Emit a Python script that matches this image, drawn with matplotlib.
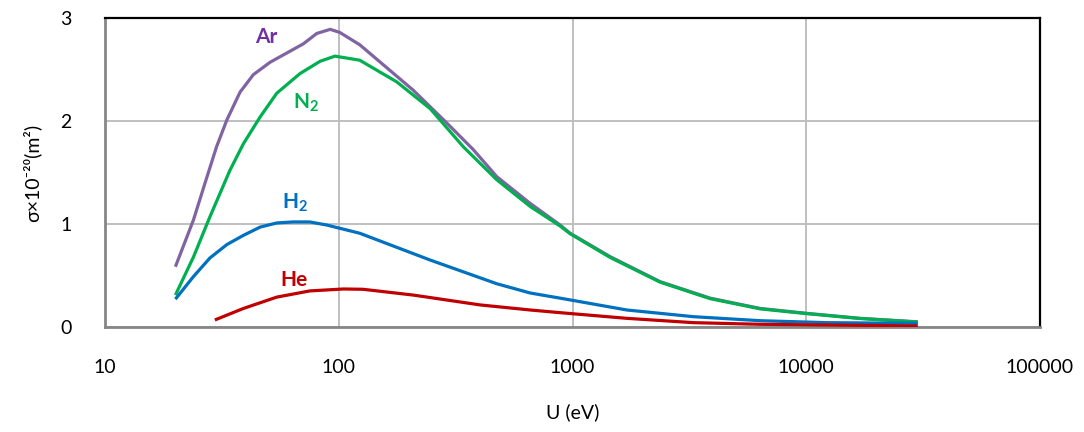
import matplotlib.pyplot as plt
from matplotlib.ticker import FixedLocator, FixedFormatter

plt.rcParams['font.family'] = ['Lato', 'DejaVu Sans']
plt.rcParams['mathtext.fontset'] = 'custom'
plt.rcParams['mathtext.rm'] = 'Lato'
plt.rcParams['mathtext.bf'] = 'Lato:bold'

# energy (eV) and cross sections (1e-20 m^2)
ar_u = [20, 23.9, 26.8, 30, 33.2, 37.8, 43.1, 50.8, 59.9, 70.6, 80.5, 91.9, 101, 123, 208, 290,
        377, 474, 659, 885, 977, 1449, 2372, 3880, 6350, 10000, 17000, 30000]
ar_s = [0.585, 1.04, 1.40, 1.75, 2.01, 2.28, 2.45, 2.57, 2.66, 2.75, 2.85, 2.89, 2.86, 2.74, 2.30, 1.98,
        1.72, 1.46, 1.20, 0.99, 0.91, 0.683, 0.44, 0.28, 0.18, 0.133, 0.084, 0.05]

n2_u = [20, 23.9, 28.1, 34.2, 39.1, 46.1, 54.3, 68.2, 83.2, 96.4, 123, 177, 246, 341, 474, 659,
        885, 977, 1449, 2372, 3880, 6350, 10000, 17000, 30000]
n2_s = [0.31, 0.68, 1.07, 1.52, 1.78, 2.04, 2.27, 2.46, 2.58, 2.63, 2.59, 2.38, 2.12, 1.75, 1.43, 1.17,
        0.98, 0.905, 0.675, 0.435, 0.275, 0.176, 0.13, 0.082, 0.048]

h2_u = [20, 23.9, 28.1, 33.2, 39.1, 46.1, 54.3, 63.8, 75.1, 88.8, 123, 246, 474, 659, 885,
        1707, 3290, 6350, 12250, 30000]
h2_s = [0.27, 0.49, 0.67, 0.80, 0.89, 0.97, 1.01, 1.02, 1.02, 0.99, 0.91, 0.65, 0.42, 0.33, 0.28,
        0.165, 0.10, 0.061, 0.042, 0.035]

he_u = [29.5, 39.1, 54.3, 75.1, 104.8, 127, 208, 403, 659, 885, 1707, 3290, 6350, 30000]
he_s = [0.068, 0.18, 0.29, 0.35, 0.369, 0.366, 0.31, 0.214, 0.165, 0.139, 0.084, 0.042, 0.026, 0.01]

x_ticks = [10, 100, 1000, 10000, 100000]
y_ticks = [0, 1, 2, 3]

fig = plt.figure(figsize=(10.84, 4.32), dpi=100)
ax = fig.add_axes([0.0969, 0.2431, 0.8625, 0.7152])

for u, s, c in [(ar_u, ar_s, '#8064A2'), (n2_u, n2_s, '#00B050'),
                (h2_u, h2_s, '#0070C0'), (he_u, he_s, '#C00000')]:
    ax.plot(u, s, color=c, lw=2.3, solid_capstyle='butt', solid_joinstyle='round', zorder=3)

ax.set_xscale('log')
ax.set_xlim(10, 100000)
ax.set_ylim(0, 3)
ax.xaxis.set_major_locator(FixedLocator(x_ticks))
ax.xaxis.set_major_formatter(FixedFormatter([str(t) for t in x_ticks]))
ax.xaxis.set_minor_locator(FixedLocator([]))
ax.set_yticks(y_ticks)
ax.tick_params(length=0, labelsize=14, colors='black')
ax.tick_params(axis='x', pad=23)
ax.tick_params(axis='y', pad=24)

ax.grid(True, color='#BFBFBF', lw=1.4)
ax.set_axisbelow(True)
for side in ('left', 'bottom'):
    ax.spines[side].set_color('#868686')
    ax.spines[side].set_linewidth(2)
for side in ('top', 'right'):
    ax.spines[side].set_color('black')
    ax.spines[side].set_linewidth(1.6)

ax.set_xlabel('U (eV)', fontsize=14, labelpad=20)
ax.set_ylabel('σ×10⁻²⁰(m²)', fontsize=14, labelpad=14)

lbl = dict(fontsize=15, fontweight='bold', ha='center', va='center')
ax.text(48.9, 2.82, 'Ar', color='#7030A0', **lbl)
ax.text(72.4, 2.18, 'N$_\\mathbf{2}$', color='#00B050', **lbl)
ax.text(65, 1.21, 'H$_\\mathbf{2}$', color='#0070C0', **lbl)
ax.text(64.4, 0.456, 'He', color='#C00000', **lbl)

fig.savefig('out.png', dpi=100)
